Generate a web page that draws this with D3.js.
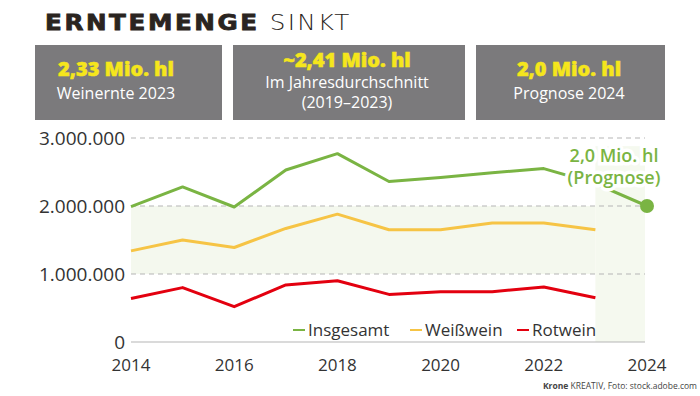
<!DOCTYPE html>
<html>
<head>
<meta charset="utf-8">
<script src="https://cdn.jsdelivr.net/npm/d3@7"></script>
<style>
  body { margin: 0; background: #fff; }
  svg { display: block; }
</style>
</head>
<body>
<div class="chart"></div>
<script>
// data (hectolitres)
var years = [2014, 2015, 2016, 2017, 2018, 2019, 2020, 2021, 2022, 2023];
var insgesamt = [1990000, 2280000, 1985000, 2530000, 2770000, 2360000, 2420000, 2490000, 2550000, 2330000];
var weisswein = [1340000, 1500000, 1390000, 1670000, 1880000, 1650000, 1650000, 1750000, 1750000, 1650000];
var rotwein = [640000, 800000, 520000, 840000, 900000, 700000, 740000, 740000, 810000, 650000];
var prognoseYear = 2024;
var prognoseValue = 2000000;

var yTicks = [0, 1000000, 2000000, 3000000];
var xTicks = [2014, 2016, 2018, 2020, 2022, 2024];
var seriesNames = ["Insgesamt", "Weißwein", "Rotwein"];
var seriesColors = ["#7ab443", "#f6c445", "#e3000f"];

var boxValues = ["2,33 Mio. hl", "~2,41 Mio. hl", "2,0 Mio. hl"];
var boxLabels = [["Weinernte 2023"], ["Im Jahresdurchschnitt", "(2019–2023)"], ["Prognose 2024"]];

// number format with dots as thousands separator
var deFormat = d3.formatLocale({ decimal: ",", thousands: ".", grouping: [3], currency: ["", "€"] }).format(",d");

var svg = d3.select(".chart").append("svg")
  .attr("width", 700)
  .attr("height", 396);

// title (stretched a bit, the original font is wider)
var title = svg.append("text")
  .attr("transform", "translate(45,30) scale(1.12,1)")
  .attr("fill", "#2a2420")
  .style("font-family", "DejaVu Sans, sans-serif")
  .style("font-size", "22px");
title.append("tspan").text("ERNTEMENGE")
  .style("font-weight", "bold")
  .attr("stroke", "#2a2420")
  .attr("stroke-width", 0.8)
  .style("letter-spacing", "2.3px");
title.append("tspan").text(" SINKT")
  .style("font-weight", "200")
  .style("letter-spacing", "2px");

// info boxes
var boxes = [
  { x: 35, w: 187, cx: 116 },
  { x: 233, w: 232, cx: 347 },
  { x: 476, w: 189, cx: 569 }
];
boxes.forEach(function(b, i) {
  svg.append("rect")
    .attr("x", b.x).attr("y", 45)
    .attr("width", b.w).attr("height", 75)
    .attr("fill", "#7b7a7c");
  var two = boxLabels[i].length > 1;
  svg.append("text")
    .attr("x", b.cx)
    .attr("y", two ? 67 : 76)
    .attr("text-anchor", "middle")
    .attr("fill", "#f5e61c")
    .attr("stroke", "#f5e61c")
    .attr("stroke-width", 0.5)
    .style("font-family", "Open Sans, sans-serif")
    .style("font-weight", "800")
    .style("font-size", "20px")
    .text(boxValues[i]);
  boxLabels[i].forEach(function(l, j) {
    svg.append("text")
      .attr("x", b.cx)
      .attr("y", (two ? 88 : 99) + j * 20)
      .attr("text-anchor", "middle")
      .attr("fill", "#fff")
      .style("font-family", "Open Sans, sans-serif")
      .style("font-size", "16px")
      .text(l);
  });
});

// scales
var x = d3.scaleLinear().domain([2014, 2024]).range([131, 647]);
var y = d3.scaleLinear().domain([0, 3000000]).range([342, 138]);

var chartGroup = svg.append("g");

// light green band and forecast column
chartGroup.append("rect")
  .attr("x", x(2014)).attr("y", y(2000000))
  .attr("width", x(2023) - x(2014))
  .attr("height", y(1000000) - y(2000000))
  .attr("fill", "#f4f8ee");
chartGroup.append("rect")
  .attr("x", x(2023)).attr("y", y(2880000))
  .attr("width", x(2024) - 2 - x(2023))
  .attr("height", y(0) - y(2880000))
  .attr("fill", "#f5f9ef");

// grid lines
chartGroup.selectAll(".grid")
  .data(yTicks.filter(d => d > 0))
  .enter().append("line")
  .attr("x1", x(2014)).attr("x2", x(2024) - 2)
  .attr("y1", d => y(d)).attr("y2", d => y(d))
  .attr("stroke", "#b5b5b5")
  .attr("stroke-width", 1)
  .attr("stroke-dasharray", "5,4");
chartGroup.append("line")
  .attr("x1", x(2014)).attr("x2", x(2024) - 2)
  .attr("y1", y(0)).attr("y2", y(0))
  .attr("stroke", "#b5b5b5");

// y labels
chartGroup.selectAll(".ylab")
  .data(yTicks)
  .enter().append("text")
  .attr("x", 125)
  .attr("y", d => y(d))
  .attr("dy", "0.35em")
  .attr("text-anchor", "end")
  .attr("fill", "#333")
  .style("font-family", "Open Sans, sans-serif")
  .style("font-size", "19px")
  .text(d => deFormat(d));

// x labels
chartGroup.selectAll(".xlab")
  .data(xTicks)
  .enter().append("text")
  .attr("x", d => x(d))
  .attr("y", 371)
  .attr("text-anchor", "middle")
  .attr("fill", "#333")
  .style("font-family", "Open Sans, sans-serif")
  .style("font-size", "17px")
  .text(d => d);

// lines
var line = d3.line()
  .x(d => x(d[0]))
  .y(d => y(d[1]));

var allSeries = [insgesamt, weisswein, rotwein];
allSeries.forEach(function(vals, i) {
  var pts = years.map((yr, k) => [yr, vals[k]]);
  if (i == 0) pts.push([prognoseYear, prognoseValue]);
  chartGroup.append("path")
    .datum(pts)
    .attr("d", line)
    .attr("fill", "none")
    .attr("stroke", seriesColors[i])
    .attr("stroke-width", 3)
    .attr("stroke-linejoin", "round");
});

// forecast dot
chartGroup.append("circle")
  .attr("cx", x(prognoseYear))
  .attr("cy", y(prognoseValue))
  .attr("r", 7)
  .attr("fill", seriesColors[0]);

// forecast label (white halo hides the line behind it)
var progLabel = ["2,0 Mio. hl", "(Prognose)"];
progLabel.forEach(function(t, j) {
  chartGroup.append("text")
    .attr("x", 614)
    .attr("y", 162 + j * 22)
    .attr("text-anchor", "middle")
    .attr("fill", seriesColors[0])
    .attr("stroke", "#fff")
    .attr("stroke-width", 7)
    .style("paint-order", "stroke")
    .style("font-family", "Open Sans, sans-serif")
    .style("font-weight", "600")
    .style("font-size", "18px")
    .text(t);
});

// legend
var legendX = [293, 410, 517];
seriesNames.forEach(function(n, i) {
  var g = chartGroup.append("g").attr("transform", `translate(${legendX[i]}, 330)`);
  g.append("line")
    .attr("x1", 0).attr("x2", 12)
    .attr("stroke", seriesColors[i])
    .attr("stroke-width", 2);
  g.append("text")
    .attr("x", 15)
    .attr("y", 6)
    .attr("fill", "#333")
    .style("font-family", "Open Sans, sans-serif")
    .style("font-size", "17px")
    .text(n);
});

// credit
var credit = svg.append("text")
  .attr("x", 697)
  .attr("y", 389)
  .attr("text-anchor", "end")
  .attr("fill", "#444")
  .style("font-family", "Open Sans, sans-serif")
  .style("font-size", "8.5px");
credit.append("tspan").text("Krone").style("font-weight", "bold");
credit.append("tspan").text(" KREATIV, Foto: stock.adobe.com");
</script>
</body>
</html>
